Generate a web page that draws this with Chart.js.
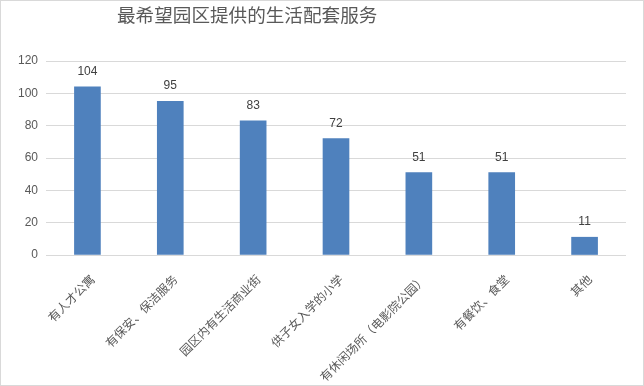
<!DOCTYPE html>
<html>
<head>
<meta charset="utf-8">
<script src="https://cdn.jsdelivr.net/npm/chart.js@4/dist/chart.umd.min.js"></script>
<style>
  body { margin: 0; background: #fff; }
  #wrap { position: relative; width: 642px; height: 384px; border: 1px solid #d9d9d9; background: #fff; }
  #title { position: absolute; left: 116px; top: 4px; font: 18.6px "Noto Sans CJK SC", sans-serif; line-height: 1; color: #595959; white-space: nowrap; }
  canvas { position: absolute; left: 0; top: 0; }
</style>
</head>
<body>
<div id="wrap">
  <canvas id="c" width="642" height="384"></canvas>
  <div id="title">最希望园区提供的生活配套服务</div>
</div>
<script>
const categories = ['有人才公寓', '有保安、保洁服务', '园区内有生活商业街', '供子女入学的小学', '有休闲场所（电影院公园）', '有餐饮、食堂', '其他'];
const counts = [104, 95, 83, 72, 51, 51, 11];
const yMax = 120;
const yStep = 20;

const barLabels = {
  id: 'barLabels',
  afterDatasetsDraw(chart) {
    const ctx = chart.ctx;
    const meta = chart.getDatasetMeta(0);
    ctx.save();
    ctx.font = '12px "Liberation Sans", Arial, sans-serif';
    ctx.fillStyle = '#404040';
    ctx.textAlign = 'center';
    ctx.textBaseline = 'alphabetic';
    meta.data.forEach((bar, i) => {
      ctx.fillText(String(counts[i]), bar.x, bar.y - 12);
    });
    ctx.restore();
  }
};

new Chart(document.getElementById('c'), {
  type: 'bar',
  data: {
    labels: categories,
    datasets: [{
      data: counts,
      backgroundColor: '#4f81bd',
      barThickness: 26
    }]
  },
  options: {
    responsive: false,
    animation: false,
    layout: { padding: { top: 60, right: 17, left: 0, bottom: 0 } },
    plugins: {
      legend: { display: false },
      tooltip: { enabled: false },
      title: { display: false }
    },
    scales: {
      x: {
        grid: { display: false },
        border: { display: false },
        afterFit: (scale) => { scale.height = 130; },
        ticks: {
          color: '#595959',
          font: { family: '"Noto Sans CJK SC", sans-serif', size: 12 },
          minRotation: 45,
          maxRotation: 45,
          autoSkip: false,
          padding: 9,
          labelOffset: 5
        }
      },
      y: {
        min: 0,
        max: yMax,
        afterFit: (scale) => { scale.width = 45; },
        grid: { color: '#d9d9d9', drawTicks: false },
        border: { display: false },
        ticks: {
          stepSize: yStep,
          color: '#595959',
          font: { family: '"Liberation Sans", Arial, sans-serif', size: 12 },
          padding: 8
        }
      }
    }
  },
  plugins: [barLabels]
});
</script>
</body>
</html>
